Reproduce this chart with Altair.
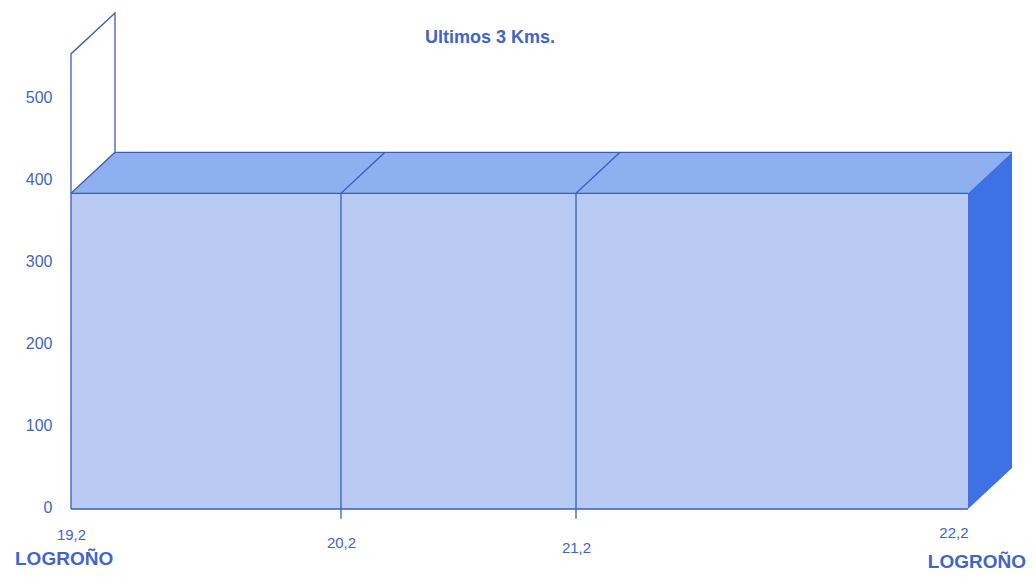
import numpy as np
import pandas as pd
import altair as alt

# ---------------- data ----------------
KM_TICKS = [19.2, 20.2, 21.2, 22.2]
SEG_START = [19.2, 20.2, 21.2]
SEG_END = [20.2, 21.2, 22.2]
SEG_ELEV = [385, 385, 385]
Y_TICKS = [0, 100, 200, 300, 400, 500]
WALL_TOP = 555
TITLE = "Ultimos 3 Kms."
PLACE_START = "LOGROÑO"
PLACE_END = "LOGROÑO"

# ---------------- style ----------------
X_RANGE = [0, 270, 505, 897]     # pixel stops of the piecewise km scale
Y_DOMAIN = [0, 600]
PLOT_W, PLOT_H = 897, 492
DEPTH_PX = 44                    # 3D depth, horizontal pixels
DEPTH_M = 50                     # 3D depth, vertical (in metres)
TICK_BELOW = -12

FRONT = "#b9cbf3"
TOP = "#8eaff0"
SIDE = "#3e72e4"
LINE = "#3a5cbc"
TXT = "#4264c6"
FONT = "Liberation Sans"


def pw(v, xs, ys):
    xs = np.asarray(xs, float)
    ys = np.asarray(ys, float)
    i = int(np.clip(np.searchsorted(xs, v) - 1, 0, len(xs) - 2))
    return ys[i] + (v - xs[i]) * (ys[i + 1] - ys[i]) / (xs[i + 1] - xs[i])


def back(km):
    """x value (km) of the point drawn DEPTH_PX behind km."""
    return pw(pw(km, KM_TICKS, X_RANGE) + DEPTH_PX, X_RANGE, KM_TICKS)


xscale = alt.Scale(domain=KM_TICKS, range=X_RANGE)
yscale = alt.Scale(domain=Y_DOMAIN, nice=False, zero=True)

xaxis = alt.Axis(
    values=KM_TICKS,
    labelExpr="replace(format(datum.value, '.1f'), '.', ',')",
    domain=False, ticks=False, tickSize=0, grid=False, title=None,
    labelFont=FONT, labelFontSize=15, labelColor=TXT,
    labelPadding={"condition": [
        {"test": "datum.value > 20 && datum.value < 21", "value": 26},
        {"test": "datum.value > 21 && datum.value < 22", "value": 31},
        {"test": "datum.value > 22", "value": 16}],
        "value": 18},
    labelAlign={"condition": {"test": "datum.value > 22", "value": "right"},
                "value": "center"},
)
yaxis = alt.Axis(
    values=Y_TICKS, domain=False, ticks=False, tickSize=0, grid=False,
    title=None, labelFont=FONT, labelFontSize=16, labelColor=TXT,
    labelPadding=19, labelOffset=-2,
)


def X(f):
    return alt.X(f, type="quantitative", scale=xscale, axis=xaxis)


def Y(f):
    return alt.Y(f, type="quantitative", scale=yscale, axis=yaxis)


# front faces
df_front = pd.DataFrame({"start": SEG_START, "end": SEG_END,
                         "elev": SEG_ELEV, "base": [0] * len(SEG_START)})
front = alt.Chart(df_front).mark_rect(fill=FRONT, strokeWidth=0).encode(
    x=X("start"), x2="end", y=Y("base"), y2="elev")

# top faces (horizontal areas make parallelograms)
rows = []
for i, (s, e, h) in enumerate(zip(SEG_START, SEG_END, SEG_ELEV)):
    rows.append({"seg": i, "y": h, "xa": s, "xb": e})
    rows.append({"seg": i, "y": h + DEPTH_M, "xa": back(s), "xb": back(e)})
df_top = pd.DataFrame(rows)
top = alt.Chart(df_top).mark_area(orient="horizontal", color=TOP).encode(
    y=Y("y"), x=X("xa"), x2="xb", detail="seg:N")

# right side face
last = SEG_END[-1]
hl = SEG_ELEV[-1]
df_side = pd.DataFrame({"x": [last, back(last)],
                        "lo": [0, DEPTH_M], "hi": [hl, hl + DEPTH_M]})
side = alt.Chart(df_side).mark_area(color=SIDE).encode(
    x=X("x"), y=Y("hi"), y2="lo")

# outline lines
paths = []


def add(name, pts):
    for k, (xv, yv) in enumerate(pts):
        paths.append({"path": name, "ord": k, "x": xv, "y": yv})


x0, x1 = SEG_START[0], SEG_END[-1]
h0 = SEG_ELEV[0]
add("bottom", [(x0, 0), (x1, 0)])
add("left", [(x0, 0), (x0, h0)])
add("fronttop", [(s, h) for s, h in zip(SEG_START, SEG_ELEV)] + [(x1, hl)])
add("topback", [(back(s), h + DEPTH_M) for s, h in zip(SEG_START, SEG_ELEV)]
    + [(back(x1), hl + DEPTH_M)])
add("topleft", [(x0, h0), (back(x0), h0 + DEPTH_M)])
for k, (s, h) in enumerate(zip(SEG_START[1:], SEG_ELEV[1:])):
    add(f"div{k}", [(s, TICK_BELOW), (s, h), (back(s), h + DEPTH_M)])
add("wall", [(x0, h0), (x0, WALL_TOP), (back(x0), WALL_TOP + DEPTH_M),
             (back(x0), h0 + DEPTH_M)])
df_lines = pd.DataFrame(paths)
lines = alt.Chart(df_lines).mark_line(color=LINE, strokeWidth=1.3).encode(
    x=X("x"), y=Y("y"), detail="path:N", order="ord:Q")

# texts
title = alt.Chart(pd.DataFrame({"t": [TITLE]})).mark_text(
    font=FONT, fontSize=18, fontWeight="bold", color=TXT, align="center",
    baseline="middle").encode(text="t:N", x=alt.value(419), y=alt.value(21))
p_start = alt.Chart(pd.DataFrame({"t": [PLACE_START]})).mark_text(
    font=FONT, fontSize=19, fontWeight="bold", color=TXT, align="left",
    baseline="middle").encode(text="t:N", x=alt.value(-56), y=alt.value(542))
p_end = alt.Chart(pd.DataFrame({"t": [PLACE_END]})).mark_text(
    font=FONT, fontSize=19, fontWeight="bold", color=TXT, align="right",
    baseline="middle").encode(text="t:N", x=alt.value(955), y=alt.value(545))

chart = alt.layer(front, top, side, lines, title, p_start, p_end).properties(
    width=PLOT_W, height=PLOT_H,
    autosize=alt.AutoSizeParams(type="none"),
    padding={"left": 63, "top": 9, "right": 60, "bottom": 63},
    background="white",
).configure_view(stroke=None)

chart.save("out.html", embed_options={"renderer": "svg", "actions": False})
